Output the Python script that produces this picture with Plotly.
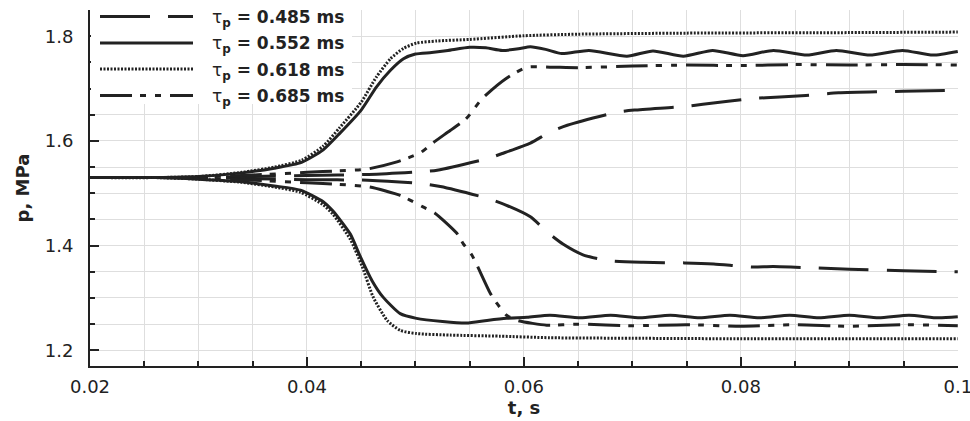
import plotly.graph_objects as go

# Pressure response p(t) for four pulse durations tau_p; each case splits
# into an upper and a lower branch.
tau_labels = ["0.485", "0.552", "0.618", "0.685"]

# tau_p = 0.485 ms (dashed)
t_485_up = [0.020, 0.026, 0.030, 0.035, 0.040, 0.0457, 0.0503, 0.052, 0.0566, 0.058, 0.0606,
            0.0624, 0.064, 0.0686, 0.0702, 0.0748, 0.0765, 0.0811, 0.0836, 0.086, 0.089, 0.0949, 0.100]
p_485_up = [1.530, 1.530, 1.530, 1.532, 1.534, 1.536, 1.541, 1.544, 1.566, 1.576, 1.596,
            1.617, 1.630, 1.655, 1.659, 1.666, 1.670, 1.681, 1.684, 1.687, 1.692, 1.695, 1.697]
t_485_lo = [0.020, 0.026, 0.030, 0.035, 0.040, 0.0456, 0.0504, 0.0523, 0.0567, 0.0584, 0.0606,
            0.0622, 0.0636, 0.0655, 0.0679, 0.071, 0.0748, 0.0775, 0.0811, 0.083, 0.090, 0.095, 0.100]
p_485_lo = [1.530, 1.530, 1.530, 1.528, 1.526, 1.525, 1.519, 1.513, 1.490, 1.477, 1.455,
            1.425, 1.403, 1.382, 1.371, 1.368, 1.367, 1.365, 1.359, 1.360, 1.355, 1.352, 1.350]

# tau_p = 0.552 ms (solid)
t_552_up = [0.020, 0.026, 0.030, 0.034, 0.037, 0.0395, 0.0415, 0.043, 0.045, 0.0464, 0.0477,
            0.0489, 0.050, 0.0515, 0.053, 0.055, 0.0565, 0.058, 0.0595, 0.0606, 0.062, 0.0635,
            0.066, 0.0695, 0.0719, 0.0747, 0.0774, 0.0802, 0.083, 0.0861, 0.0888, 0.0919,
            0.0949, 0.0977, 0.100]
p_552_up = [1.530, 1.530, 1.532, 1.539, 1.548, 1.559, 1.583, 1.614, 1.659, 1.703, 1.735,
            1.757, 1.766, 1.769, 1.773, 1.779, 1.778, 1.773, 1.776, 1.780, 1.775, 1.767,
            1.773, 1.762, 1.772, 1.762, 1.773, 1.763, 1.773, 1.764, 1.773, 1.764,
            1.773, 1.764, 1.771]
t_552_lo = [0.020, 0.026, 0.030, 0.034, 0.037, 0.0394, 0.0415, 0.0424, 0.044, 0.0449, 0.046,
            0.047, 0.0486, 0.0501, 0.0525, 0.0547, 0.0566, 0.0584, 0.0603, 0.0624, 0.0652,
            0.068, 0.0707, 0.0735, 0.0762, 0.079, 0.0817, 0.0845, 0.0872, 0.090, 0.0927,
            0.0955, 0.0982, 0.100]
p_552_lo = [1.530, 1.530, 1.527, 1.522, 1.514, 1.506, 1.484, 1.466, 1.422, 1.380, 1.333,
            1.302, 1.270, 1.261, 1.255, 1.252, 1.257, 1.261, 1.263, 1.267, 1.262,
            1.267, 1.262, 1.267, 1.262, 1.267, 1.262, 1.267, 1.262, 1.267, 1.262,
            1.267, 1.262, 1.264]

# tau_p = 0.618 ms (dotted)
t_618_up = [0.020, 0.026, 0.030, 0.034, 0.037, 0.0395, 0.0415, 0.043, 0.045, 0.0464, 0.0477,
            0.0489, 0.0501, 0.052, 0.055, 0.060, 0.065, 0.075, 0.090, 0.100]
p_618_up = [1.530, 1.530, 1.532, 1.540, 1.550, 1.563, 1.590, 1.625, 1.674, 1.722, 1.757,
            1.777, 1.787, 1.791, 1.794, 1.801, 1.804, 1.806, 1.807, 1.808]
t_618_lo = [0.020, 0.026, 0.030, 0.034, 0.037, 0.0394, 0.0415, 0.0424, 0.044, 0.0451, 0.0461,
            0.0474, 0.0486, 0.0501, 0.0532, 0.0578, 0.0624, 0.070, 0.080, 0.090, 0.100]
p_618_lo = [1.530, 1.530, 1.527, 1.521, 1.512, 1.502, 1.478, 1.460, 1.412, 1.360, 1.302,
            1.257, 1.238, 1.232, 1.229, 1.227, 1.224, 1.223, 1.222, 1.222, 1.222]

# tau_p = 0.685 ms (dash-dot)
t_685_up = [0.020, 0.026, 0.030, 0.035, 0.040, 0.043, 0.0455, 0.0483, 0.0495, 0.0505, 0.0516,
            0.0532, 0.0547, 0.0562, 0.0584, 0.0603, 0.0624, 0.065, 0.070, 0.075, 0.080,
            0.085, 0.090, 0.095, 0.100]
p_685_up = [1.530, 1.530, 1.531, 1.535, 1.540, 1.543, 1.546, 1.560, 1.569, 1.578, 1.596,
            1.620, 1.643, 1.682, 1.720, 1.741, 1.741, 1.740, 1.743, 1.745, 1.744,
            1.746, 1.745, 1.746, 1.745]
t_685_lo = [0.020, 0.026, 0.030, 0.035, 0.040, 0.043, 0.0458, 0.0486, 0.0495, 0.0507, 0.0518,
            0.0538, 0.0544, 0.0552, 0.0556, 0.0569, 0.0575, 0.0584, 0.0594, 0.0621, 0.065,
            0.070, 0.075, 0.080, 0.085, 0.090, 0.095, 0.100]
p_685_lo = [1.530, 1.530, 1.529, 1.525, 1.520, 1.517, 1.512, 1.496, 1.487, 1.474, 1.462,
            1.424, 1.404, 1.382, 1.366, 1.309, 1.290, 1.267, 1.257, 1.248, 1.250,
            1.247, 1.249, 1.246, 1.249, 1.246, 1.249, 1.247]

x_ticks = [0.02, 0.04, 0.06, 0.08, 0.1]
x_ticktext = ["0.02", "0.04", "0.06", "0.08", "0.1"]
y_ticks = [1.2, 1.4, 1.6, 1.8]
y_ticktext = ["1.2", "1.4", "1.6", "1.8"]

INK = "#222222"
GRID = "#dedede"
FONT = "DejaVu Sans"

dash_styles = {
    "0.485": "50px,18px",
    "0.552": "solid",
    "0.618": "2px,1.5px",
    "0.685": "32px,8px,6px,9px,6px,9px",
}

branches = [
    ("0.485", t_485_up, p_485_up), ("0.485", t_485_lo, p_485_lo),
    ("0.552", t_552_up, p_552_up), ("0.552", t_552_lo, p_552_lo),
    ("0.618", t_618_up, p_618_up), ("0.618", t_618_lo, p_618_lo),
    ("0.685", t_685_up, p_685_up), ("0.685", t_685_lo, p_685_lo),
]

fig = go.Figure()
for tau, t, p in branches:
    fig.add_trace(go.Scatter(
        x=t, y=p, mode="lines", showlegend=False,
        line=dict(color=INK, width=3, dash=dash_styles[tau], shape="spline", smoothing=0.6),
        hoverinfo="skip", cliponaxis=True,
    ))

# plot-area geometry (pixels) for placing the legend box
W, H = 970, 421
ML, MR, MT, MB = 90, 12, 10, 55


def px_x(x):
    return (x - ML) / (W - ML - MR)


def px_y(y):
    return (H - MB - y) / (H - MT - MB)


shapes = [dict(type="rect", xref="paper", yref="paper",
               x0=px_x(91), x1=px_x(352), y0=px_y(104), y1=px_y(8),
               fillcolor="white", line=dict(width=0), layer="above")]
annotations = []
rows = [16.5, 43, 69, 95.5]
for tau, row in zip(tau_labels, rows):
    shapes.append(dict(type="line", xref="paper", yref="paper",
                       x0=px_x(100), x1=px_x(193), y0=px_y(row), y1=px_y(row),
                       line=dict(color=INK, width=3, dash=dash_styles[tau]), layer="above"))
    annotations.append(dict(
        xref="paper", yref="paper", x=px_x(210), y=px_y(row + 2),
        xanchor="left", yanchor="middle", showarrow=False,
        text=f"τ<sub><b>p</b></sub><b> = {tau} ms</b>",
        font=dict(family=FONT, size=17, color=INK),
    ))

axis_common = dict(
    showline=True, linecolor=INK, linewidth=2, mirror=False,
    showgrid=True, gridcolor=GRID, gridwidth=1, zeroline=False,
    ticks="inside", ticklen=9, tickwidth=2, tickcolor=INK,
    tickfont=dict(family=FONT, size=18, color=INK),
    automargin=False, ticklabeloverflow="allow",
)

fig.update_layout(
    width=W, height=H,
    margin=dict(l=ML, r=MR, t=MT, b=MB),
    paper_bgcolor="white", plot_bgcolor="white",
    shapes=shapes, annotations=annotations,
    xaxis=dict(
        range=[0.02, 0.10002], tickvals=x_ticks, ticktext=x_ticktext,
        minor=dict(dtick=0.005, tick0=0.02, showgrid=True, gridcolor=GRID,
                   ticks="inside", ticklen=5, tickwidth=1.5, tickcolor=INK),
        title=dict(text="t, s", font=dict(family=FONT, size=18, color=INK, weight="bold"),
                   standoff=2),
        ticklabelstandoff=3,
        **axis_common,
    ),
    yaxis=dict(
        range=[1.17, 1.8502], tickvals=y_ticks, ticktext=y_ticktext,
        minor=dict(dtick=0.05, tick0=1.2, showgrid=True, gridcolor=GRID,
                   ticks="inside", ticklen=5, tickwidth=1.5, tickcolor=INK),
        title=dict(text="p, MPa", font=dict(family=FONT, size=18, color=INK, weight="bold"),
                   standoff=10),
        ticklabelstandoff=11,
        **axis_common,
    ),
)

fig.write_html("out.html")
